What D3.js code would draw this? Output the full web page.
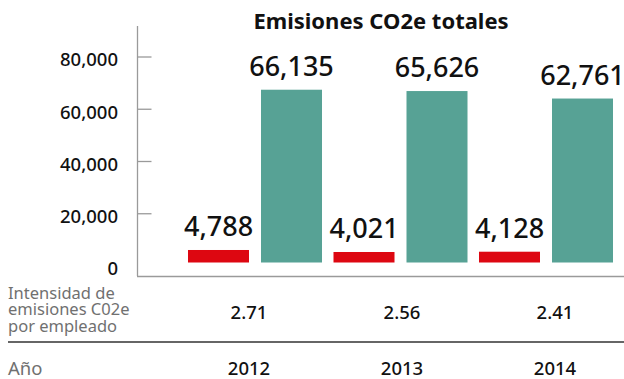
<!DOCTYPE html>
<html>
<head>
<meta charset="utf-8">
<script src="https://cdn.jsdelivr.net/npm/d3@7"></script>
<style>
  html, body { margin: 0; padding: 0; background: #fff; }
  svg { display: block; font-family: "Noto Sans", "Open Sans", sans-serif; }
</style>
</head>
<body>
<svg id="chart" width="624" height="379"></svg>
<script>
// Emissions data per year
const years = ["2012", "2013", "2014"];
const intensityEmissions = [4788, 4021, 4128];   // red bars
const totalEmissions = [66135, 65626, 62761];     // green bars
const intensityPerEmployee = ["2.71", "2.56", "2.41"];
const yTicks = [0, 20000, 40000, 60000, 80000];
const title = "Emisiones CO2e totales";
const rowLabelLines = ["Intensidad de", "emisiones C02e", "por empleado"];
const yearRowLabel = "Año";

const RED = "#dd0711";
const GREEN = "#57a295";
const AXIS = "#9a9a9a";

const svg = d3.select("#chart");
const fmt = d3.format(",");

// Scales
const y = d3.scaleLinear().domain([0, 80000]).range([266, 57]);
const barLift = 3.5; // bars float slightly above the baseline

const x0 = d3.scaleBand()
  .domain(years)
  .range([182.25, 618.75])
  .paddingInner(0.079)
  .paddingOuter(0.0395);

const x1 = d3.scaleBand()
  .domain(["red", "green"])
  .range([0, x0.bandwidth()])
  .paddingInner(12 / 73)
  .paddingOuter(0);

// Columns of the table below the chart
const xTable = d3.scalePoint().domain(years).range([249, 555]);

const rows = years.map((yr, i) => ({
  year: yr,
  red: intensityEmissions[i],
  green: totalEmissions[i],
  ratio: intensityPerEmployee[i]
}));

// Title
svg.append("text")
  .attr("x", 381)
  .attr("y", 29)
  .attr("text-anchor", "middle")
  .attr("font-size", 22)
  .attr("font-weight", 700)
  .attr("fill", "#111")
  .text(title);

// Y axis line
svg.append("line")
  .attr("x1", 137.5).attr("x2", 137.5)
  .attr("y1", 26).attr("y2", 276)
  .attr("stroke", AXIS).attr("stroke-width", 1.3);

// Y ticks (inner) and labels
const tickG = svg.append("g").selectAll("g")
  .data(yTicks)
  .join("g")
  .attr("transform", d => `translate(0,${y(d)})`);

tickG.filter(d => d !== 0).append("line")
  .attr("x1", 137.5).attr("x2", 151.5)
  .attr("stroke", AXIS).attr("stroke-width", 1.3);

tickG.append("text")
  .attr("x", 118)
  .attr("y", 3)
  .attr("dy", "0.35em")
  .attr("text-anchor", "end")
  .attr("font-size", 18.5)
  .attr("font-weight", 500)
  .attr("fill", "#111")
  .text(d => fmt(d));

// X baseline
svg.append("line")
  .attr("x1", 137).attr("x2", 624)
  .attr("y1", 276.5).attr("y2", 276.5)
  .attr("stroke", AXIS).attr("stroke-width", 1.5);

// Bars
const groups = svg.append("g").selectAll("g")
  .data(rows)
  .join("g")
  .attr("transform", d => `translate(${x0(d.year)},0)`);

const series = [
  { key: "red", color: RED },
  { key: "green", color: GREEN }
];

series.forEach(s => {
  groups.append("rect")
    .attr("x", x1(s.key))
    .attr("width", x1.bandwidth())
    .attr("y", d => y(d[s.key]) - barLift)
    .attr("height", d => y(0) - y(d[s.key]))
    .attr("fill", s.color);

  groups.append("text")
    .attr("x", x1(s.key) + x1.bandwidth() / 2)
    .attr("y", d => y(d[s.key]) - barLift - 14)
    .attr("text-anchor", "middle")
    .attr("font-size", 27)
    .attr("font-weight", 500)
    .attr("fill", "#111")
    .text(d => fmt(d[s.key]));
});

// Table rows
const labelG = svg.append("text")
  .attr("x", 8)
  .attr("font-size", 16.5)
  .attr("fill", "#707070");
labelG.selectAll("tspan")
  .data(rowLabelLines)
  .join("tspan")
  .attr("x", 8)
  .attr("y", (d, i) => 299 + i * 16.3)
  .text(d => d);

svg.append("g").selectAll("text")
  .data(rows)
  .join("text")
  .attr("x", d => xTable(d.year))
  .attr("y", 319)
  .attr("text-anchor", "middle")
  .attr("font-size", 18.5)
  .attr("font-weight", 500)
  .attr("fill", "#111")
  .text(d => d.ratio);

svg.append("line")
  .attr("x1", 8).attr("x2", 624)
  .attr("y1", 342).attr("y2", 342)
  .attr("stroke", "#333").attr("stroke-width", 1.3);

svg.append("text")
  .attr("x", 8)
  .attr("y", 374.5)
  .attr("font-size", 18.5)
  .attr("fill", "#707070")
  .text(yearRowLabel);

svg.append("g").selectAll("text")
  .data(rows)
  .join("text")
  .attr("x", d => xTable(d.year))
  .attr("y", 374.5)
  .attr("text-anchor", "middle")
  .attr("font-size", 18.5)
  .attr("font-weight", 500)
  .attr("fill", "#111")
  .text(d => d.year);
</script>
</body>
</html>
